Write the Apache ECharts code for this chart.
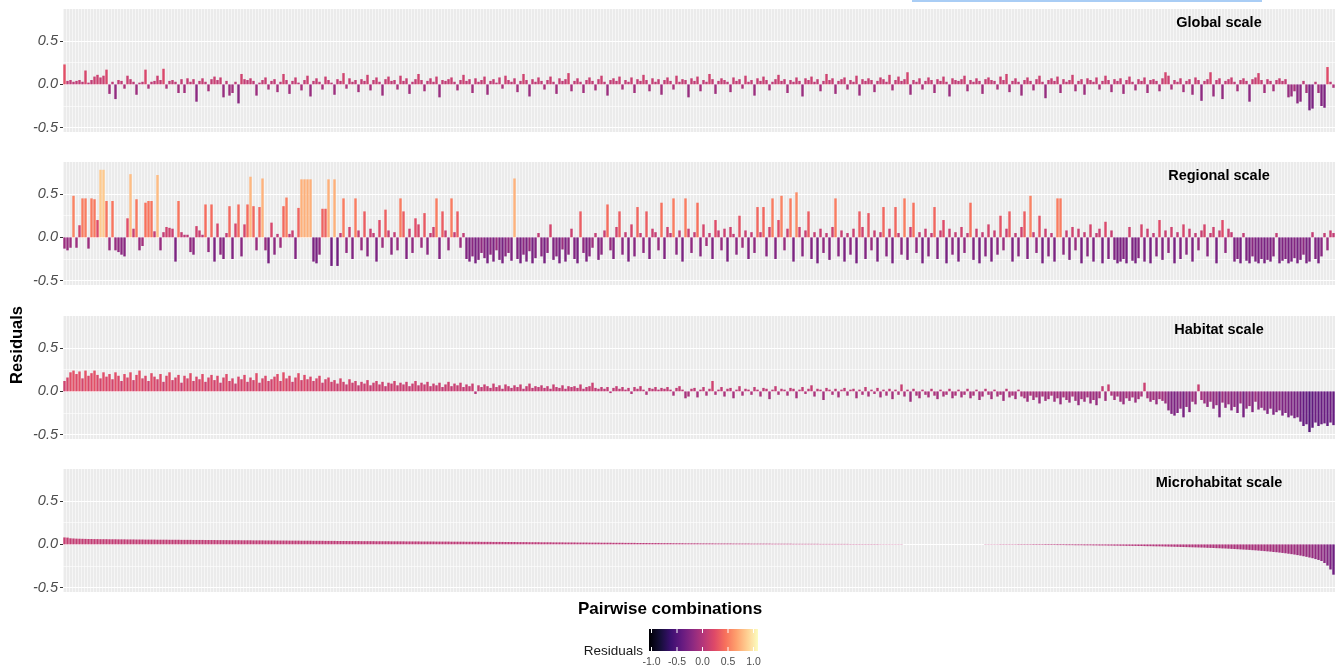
<!DOCTYPE html>
<html><head><meta charset="utf-8">
<script src="https://cdn.jsdelivr.net/npm/echarts@6/dist/echarts.min.js"></script>
<style>html,body{margin:0;padding:0;background:#fff}#c{width:1341px;height:671px}</style>
</head><body><div id="c"></div>
<script>
const panelTitles = ['Global scale', 'Regional scale', 'Habitat scale', 'Microhabitat scale'];
const yTickValues = [-0.5, 0, 0.5];
const yMinorValues = [-0.25, 0.25];
const legendTicks = [-1.0, -0.5, 0.0, 0.5, 1.0];

const globalRes = [
0.23,0.04,0.05,0.03,0.04,0.05,0.03,0.16,0.02,0.05,
0.09,0.11,0.08,0.10,0.17,-0.11,0.03,-0.17,0.05,0.04,
-0.05,0.10,0.06,0.03,-0.12,0.02,0.03,0.17,-0.05,0.03,
0.04,0.10,0.05,0.18,-0.05,0.04,0.05,0.03,-0.10,0.06,
-0.10,0.07,0.03,0.06,-0.20,0.04,0.07,0.03,-0.08,0.06,
0.09,0.05,0.08,-0.15,0.04,-0.13,-0.10,0.03,-0.22,0.12,
0.06,0.05,0.07,0.04,-0.13,0.02,0.05,0.08,-0.06,0.04,
0.06,-0.09,0.03,0.12,0.05,-0.11,0.04,0.08,0.02,-0.07,
0.05,0.10,-0.14,0.04,0.07,0.03,-0.06,0.09,0.05,0.02,
-0.12,0.06,0.04,0.13,-0.05,0.07,0.03,0.05,-0.09,0.06,
0.04,0.11,-0.07,0.05,0.08,0.03,-0.13,0.06,0.09,0.04,
0.05,-0.06,0.10,0.04,0.07,-0.11,0.03,0.06,0.12,0.05,
-0.08,0.04,0.07,0.03,0.09,-0.15,0.05,0.04,0.06,0.08,
0.03,-0.07,0.05,0.11,0.04,0.06,-0.10,0.07,0.03,0.05,
0.09,-0.12,0.04,0.06,0.02,0.08,-0.05,0.10,0.05,0.03,
0.07,-0.09,0.04,0.12,0.05,-0.14,0.06,0.03,0.08,0.04,
-0.06,0.05,0.09,0.03,-0.11,0.07,0.04,0.06,0.13,-0.08,
0.04,0.07,0.03,-0.10,0.05,0.08,0.04,-0.07,0.06,0.10,
0.03,-0.13,0.05,0.07,0.04,0.09,-0.06,0.05,0.03,0.08,
-0.10,0.06,0.04,0.11,0.05,-0.08,0.07,0.03,0.06,-0.12,
0.05,0.08,0.04,-0.06,0.10,0.03,0.06,0.05,-0.15,0.07,
0.04,0.09,-0.08,0.05,0.03,0.12,0.06,-0.11,0.04,0.07,
0.05,0.03,-0.09,0.08,0.04,0.06,-0.05,0.10,0.03,0.05,
-0.13,0.07,0.04,0.09,0.05,-0.07,0.03,0.06,0.11,0.04,
0.06,-0.10,0.05,0.03,0.08,0.04,-0.14,0.07,0.05,0.09,
0.03,0.06,-0.08,0.04,0.12,0.05,0.07,-0.11,0.04,0.06,
0.08,-0.06,0.05,0.03,0.10,-0.13,0.06,0.04,0.07,0.05,
-0.09,0.04,0.08,0.06,0.03,0.11,-0.07,0.05,0.09,0.04,
0.06,0.14,-0.12,0.05,0.03,0.07,-0.06,0.04,0.08,0.05,
-0.10,0.06,0.04,0.09,0.03,-0.14,0.07,0.05,0.04,0.06,
0.10,-0.08,0.05,0.03,0.07,0.04,-0.11,0.06,0.08,0.05,
0.04,-0.06,0.09,0.05,0.12,-0.09,0.04,0.07,0.03,-0.13,
0.05,0.08,0.04,-0.07,0.06,0.10,0.03,-0.16,0.05,0.07,
0.04,0.09,-0.10,0.06,0.03,0.05,0.11,-0.08,0.04,0.06,
-0.12,0.07,0.05,0.03,0.08,-0.06,0.04,0.10,0.05,-0.09,
0.06,0.04,0.07,-0.11,0.05,0.09,0.03,-0.07,0.06,0.04,
0.08,-0.10,0.05,0.06,0.04,-0.08,0.07,0.14,0.10,-0.06,
0.05,0.03,0.07,-0.09,0.04,0.06,-0.12,0.08,0.05,-0.19,
0.04,0.06,0.14,-0.14,0.05,0.07,-0.17,0.04,0.06,0.08,
0.03,-0.08,0.05,0.07,0.04,-0.20,0.06,0.08,0.13,0.05,
-0.10,0.06,0.04,-0.08,0.05,0.07,0.04,0.06,-0.15,-0.14,
-0.08,-0.22,-0.20,0.04,-0.10,-0.30,-0.28,0.03,-0.10,-0.25,
-0.27,0.20,0.03,-0.04
];

const regionalRes = [
-0.13,-0.15,-0.12,0.48,-0.12,0.14,0.45,0.45,-0.13,0.45,
0.44,0.20,0.78,0.78,0.42,-0.15,0.42,-0.15,-0.17,-0.20,
-0.22,0.22,0.73,0.10,0.44,-0.15,-0.10,0.40,0.42,0.42,
0.07,0.72,-0.15,0.06,0.12,0.11,0.10,-0.28,0.42,0.06,
0.03,0.03,-0.17,-0.20,0.13,0.08,0.03,0.38,-0.17,0.38,
-0.28,0.16,-0.20,-0.25,0.05,0.36,-0.25,0.16,0.38,-0.22,
0.15,0.38,0.70,0.36,-0.15,0.35,0.68,-0.15,-0.30,0.17,
-0.20,0.04,-0.12,0.36,0.46,0.04,0.08,-0.25,0.34,0.67,
0.67,0.67,0.67,-0.28,-0.30,-0.20,0.33,0.33,0.67,-0.33,
0.67,-0.33,0.05,0.45,-0.18,0.12,-0.25,0.45,0.08,-0.15,
0.30,-0.22,0.10,0.05,-0.28,0.20,-0.12,0.32,0.08,-0.20,
0.06,-0.15,0.45,0.30,-0.25,0.10,-0.18,0.22,0.15,-0.12,
0.28,-0.20,0.05,0.12,0.45,-0.25,0.30,0.08,-0.15,0.45,
0.06,0.30,-0.12,0.05,-0.25,-0.28,-0.22,-0.30,-0.26,-0.18,
-0.24,-0.30,-0.20,-0.28,-0.15,-0.26,-0.30,-0.22,-0.18,-0.27,
0.68,-0.25,-0.30,-0.20,-0.28,-0.16,-0.30,-0.24,0.05,-0.22,
-0.30,-0.18,0.15,-0.26,-0.22,-0.30,-0.14,-0.28,-0.20,0.10,
-0.25,-0.30,0.30,-0.18,-0.28,-0.22,-0.12,0.05,-0.26,-0.20,
0.08,0.38,-0.15,-0.25,0.12,0.30,-0.20,0.06,-0.28,0.15,
-0.22,0.35,0.05,-0.18,0.30,-0.25,0.10,0.06,-0.15,0.40,
-0.25,0.12,0.05,0.45,-0.20,0.08,-0.28,0.45,0.10,-0.18,
0.06,0.40,-0.22,0.15,-0.10,0.05,-0.25,0.20,0.08,-0.15,
0.10,-0.28,0.12,0.04,-0.20,0.25,-0.12,0.08,-0.25,0.06,
-0.18,0.35,0.06,0.35,-0.22,0.12,0.45,-0.25,0.20,0.48,
-0.15,0.10,0.45,-0.28,0.52,0.12,-0.22,0.08,0.30,-0.25,
0.06,-0.30,0.10,-0.18,0.05,-0.26,0.12,0.45,-0.22,0.08,
-0.28,0.05,-0.20,0.10,-0.30,0.30,0.12,-0.25,0.28,-0.15,
0.08,-0.28,0.06,0.35,-0.22,0.10,-0.30,0.35,0.05,-0.20,
0.45,-0.26,0.12,0.40,-0.18,0.06,-0.30,0.10,-0.22,0.05,
0.35,-0.25,0.08,0.20,-0.30,0.10,-0.20,0.06,-0.28,0.12,
-0.18,0.05,0.40,-0.26,0.10,-0.30,0.06,-0.22,0.15,-0.28,
0.08,-0.20,0.25,-0.15,0.10,0.30,-0.28,0.05,-0.22,0.12,
0.30,-0.25,0.48,0.06,-0.18,0.25,-0.30,0.10,-0.22,0.05,
-0.28,0.45,0.45,-0.20,0.08,-0.26,0.12,-0.15,0.10,-0.30,
0.06,-0.22,0.15,-0.28,0.05,0.10,-0.30,0.18,-0.25,0.08,
-0.26,-0.30,-0.28,-0.25,-0.30,0.12,-0.27,-0.30,-0.24,0.15,
-0.28,0.10,-0.30,0.05,-0.22,0.20,-0.26,0.08,-0.18,0.12,
-0.30,0.06,-0.25,0.15,-0.20,0.10,-0.28,0.05,-0.15,0.08,
0.15,-0.22,0.05,0.12,-0.30,0.08,0.20,-0.18,0.10,0.06,
-0.28,-0.25,-0.30,0.05,-0.27,-0.30,-0.22,-0.28,-0.30,-0.25,
-0.30,-0.26,-0.28,-0.22,0.05,-0.30,-0.27,-0.25,-0.30,-0.28,
-0.24,-0.30,-0.26,-0.20,-0.30,-0.28,0.06,-0.25,-0.30,-0.22,
0.05,-0.15,0.08,0.05
];

const habitatRes = [
0.12,0.16,0.22,0.24,0.20,0.23,0.15,0.24,0.18,0.21,
0.24,0.19,0.15,0.22,0.17,0.20,0.14,0.22,0.18,0.12,
0.20,0.16,0.22,0.13,0.19,0.24,0.15,0.18,0.12,0.21,
0.17,0.14,0.20,0.11,0.18,0.22,0.13,0.16,0.19,0.10,
0.18,0.15,0.21,0.12,0.17,0.14,0.20,0.11,0.16,0.19,
0.13,0.18,0.10,0.16,0.20,0.12,0.15,0.09,0.17,0.14,
0.19,0.11,0.16,0.13,0.21,0.10,0.15,0.18,0.12,0.14,
0.17,0.20,0.12,0.22,0.15,0.18,0.11,0.16,0.21,0.13,
0.19,0.14,0.17,0.12,0.15,0.18,0.10,0.14,0.16,0.11,
0.13,0.09,0.15,0.11,0.08,0.14,0.10,0.12,0.07,0.11,
0.09,0.13,0.07,0.10,0.12,0.08,0.11,0.06,0.10,0.09,
0.12,0.07,0.10,0.08,0.11,0.06,0.09,0.12,0.07,0.10,
0.08,0.11,0.06,0.09,0.07,0.10,0.05,0.08,0.11,0.06,
0.09,0.07,0.10,0.05,0.08,0.06,0.09,-0.03,0.07,0.05,
0.08,0.06,0.04,0.09,0.05,0.07,0.03,0.08,0.06,0.04,
0.07,0.05,0.08,0.03,0.06,0.09,0.04,0.06,0.05,0.07,
0.04,0.06,0.03,0.08,0.05,0.04,0.07,0.03,0.06,0.05,
0.06,0.04,0.08,0.03,0.05,0.06,0.10,0.04,0.03,0.05,
0.03,0.05,-0.02,0.04,0.06,0.03,0.05,0.02,0.04,-0.03,
0.05,0.03,0.06,0.02,-0.04,0.04,0.03,0.05,0.02,0.04,
0.03,0.05,0.02,-0.05,0.04,0.06,0.02,-0.08,-0.06,0.03,
0.04,-0.07,0.02,0.05,-0.05,0.03,0.12,-0.04,0.02,0.05,
-0.06,0.03,0.04,-0.08,0.02,0.06,-0.05,0.03,0.02,-0.04,
0.05,0.02,-0.06,0.04,0.03,-0.09,0.02,0.06,-0.04,0.03,
0.02,-0.05,0.04,0.03,-0.08,0.02,0.05,-0.03,0.03,0.07,
-0.06,0.03,0.02,-0.10,0.04,0.02,-0.04,0.03,-0.07,0.02,
0.04,-0.05,0.02,0.03,-0.08,0.02,-0.04,0.05,-0.06,0.02,
-0.03,0.04,-0.07,0.02,-0.05,0.03,-0.09,0.02,-0.04,0.08,
-0.06,0.02,-0.12,0.03,-0.05,-0.08,0.02,-0.04,-0.07,0.03,
-0.05,-0.09,0.02,-0.06,-0.04,0.03,-0.08,-0.05,0.02,-0.07,
-0.04,0.03,-0.08,-0.05,0.02,-0.10,-0.06,0.03,-0.04,-0.09,
0.02,-0.06,-0.04,-0.11,0.03,-0.07,-0.05,-0.09,0.02,-0.06,
-0.08,-0.12,-0.05,-0.10,-0.07,-0.14,-0.06,-0.11,-0.09,-0.05,
-0.12,-0.08,-0.15,-0.07,-0.10,-0.13,-0.06,-0.11,-0.16,-0.09,
-0.12,-0.07,-0.14,-0.10,-0.16,-0.08,0.06,-0.11,0.08,-0.05,
-0.10,-0.06,-0.12,-0.15,-0.08,-0.11,-0.07,-0.13,-0.09,-0.06,
0.10,-0.08,-0.12,-0.10,-0.15,-0.09,-0.11,-0.14,-0.22,-0.26,
-0.28,-0.25,-0.20,-0.30,-0.18,-0.24,-0.12,-0.15,0.08,-0.10,
-0.14,-0.18,-0.12,-0.20,-0.16,-0.30,-0.13,-0.19,-0.15,-0.22,
-0.18,-0.25,-0.14,-0.30,-0.20,-0.17,-0.24,-0.12,-0.21,-0.19,
-0.22,-0.26,-0.20,-0.27,-0.24,-0.22,-0.28,-0.25,-0.30,-0.28,
-0.31,-0.30,-0.35,-0.40,-0.38,-0.47,-0.42,-0.36,-0.40,-0.38,
-0.37,-0.40,-0.36,-0.39
];

const microRes = [
0.080,0.078,0.070,0.068,0.066,0.065,0.064,0.063,0.062,0.062,
0.061,0.061,0.060,0.060,0.060,0.059,0.059,0.059,0.058,0.058,
0.058,0.057,0.057,0.057,0.056,0.056,0.056,0.055,0.055,0.055,
0.055,0.054,0.054,0.054,0.054,0.053,0.053,0.053,0.053,0.052,
0.052,0.052,0.052,0.051,0.051,0.051,0.051,0.050,0.050,0.050,
0.050,0.049,0.049,0.049,0.049,0.048,0.048,0.048,0.048,0.047,
0.047,0.047,0.047,0.046,0.046,0.046,0.046,0.045,0.045,0.045,
0.045,0.044,0.044,0.044,0.044,0.043,0.043,0.043,0.043,0.042,
0.042,0.042,0.042,0.041,0.041,0.041,0.041,0.040,0.040,0.040,
0.040,0.039,0.039,0.039,0.039,0.038,0.038,0.038,0.038,0.037,
0.037,0.037,0.037,0.037,0.036,0.036,0.036,0.036,0.036,0.035,
0.035,0.035,0.035,0.035,0.034,0.034,0.034,0.034,0.034,0.033,
0.033,0.033,0.033,0.033,0.032,0.032,0.032,0.032,0.032,0.031,
0.031,0.031,0.031,0.031,0.030,0.030,0.030,0.030,0.030,0.029,
0.029,0.029,0.029,0.028,0.028,0.028,0.028,0.027,0.027,0.027,
0.027,0.026,0.026,0.026,0.026,0.025,0.025,0.025,0.025,0.024,
0.024,0.024,0.024,0.023,0.023,0.023,0.023,0.022,0.022,0.022,
0.022,0.021,0.021,0.021,0.021,0.020,0.020,0.020,0.020,0.019,
0.019,0.019,0.019,0.018,0.018,0.018,0.018,0.017,0.017,0.017,
0.017,0.016,0.016,0.016,0.016,0.015,0.015,0.015,0.015,0.014,
0.014,0.014,0.014,0.013,0.013,0.013,0.013,0.012,0.012,0.012,
0.012,0.012,0.011,0.011,0.011,0.011,0.011,0.010,0.010,0.010,
0.010,0.010,0.010,0.009,0.009,0.009,0.009,0.009,0.009,0.008,
0.008,0.008,0.008,0.008,0.008,0.008,0.007,0.007,0.007,0.007,
0.007,0.007,0.007,0.006,0.006,0.006,0.006,0.006,0.006,0.006,
0.006,0.006,0.005,0.005,0.005,0.005,0.005,0.005,0.005,0.005,
0.005,0.005,0.004,0.004,0.004,0.004,0.004,0.004,0.004,0.004,
0.004,0.004,0.003,0.003,0.003,0.003,0.003,0.003,0.003,0.003,
0,0,0,0,0,0,0,0,0,0,
0,0,0,0,0,0,0,0,0,0,
0,0,0,0,0,0,0,-0.003,-0.003,-0.003,
-0.003,-0.003,-0.004,-0.004,-0.004,-0.004,-0.004,-0.004,-0.005,-0.005,
-0.005,-0.005,-0.005,-0.006,-0.006,-0.006,-0.006,-0.007,-0.007,-0.007,
-0.007,-0.008,-0.008,-0.008,-0.009,-0.009,-0.009,-0.010,-0.010,-0.010,
-0.011,-0.011,-0.011,-0.012,-0.012,-0.013,-0.013,-0.013,-0.014,-0.014,
-0.015,-0.015,-0.016,-0.016,-0.017,-0.017,-0.018,-0.018,-0.019,-0.019,
-0.020,-0.021,-0.021,-0.022,-0.023,-0.023,-0.024,-0.025,-0.026,-0.027,
-0.028,-0.029,-0.030,-0.031,-0.032,-0.033,-0.034,-0.035,-0.036,-0.037,
-0.038,-0.040,-0.041,-0.042,-0.044,-0.045,-0.047,-0.048,-0.050,-0.052,
-0.054,-0.056,-0.058,-0.060,-0.062,-0.064,-0.067,-0.069,-0.072,-0.075,
-0.078,-0.081,-0.084,-0.088,-0.091,-0.095,-0.099,-0.103,-0.108,-0.113,
-0.118,-0.124,-0.130,-0.137,-0.144,-0.152,-0.160,-0.170,-0.180,-0.192,
-0.215,-0.245,-0.290,-0.350
];

const panelData = [globalRes, regionalRes, habitatRes, microRes];
const N = 424;
const pairIds = Array.from({length: N}, (_, i) => 'pair ' + (i + 1));
const magma = ['#000004','#140e36','#3b0f70','#641a80','#8c2981','#b73779','#de4968','#f7705c','#fe9f6d','#fecf92','#fcfdbf'];

const gridTops = [9, 162, 316, 469];
const gridH = 123, gridLeft = 63, gridW = 1272;
const yMin = -0.55, yMax = 0.87;
const FONT = 'Liberation Sans, Arial, sans-serif';

const grids = [], xAxes = [], yAxes = [], series = [];
panelData.forEach((d, k) => {
  grids.push({left: gridLeft, width: gridW, top: gridTops[k], height: gridH, show: true,
    backgroundColor: '#ebebeb', borderWidth: 0, containLabel: false});
  xAxes.push({type: 'category', gridIndex: k, data: pairIds,
    axisLine: {show: false}, axisTick: {show: false}, axisLabel: {show: false},
    splitLine: {show: true, interval: 0, lineStyle: {color: 'rgba(255,255,255,0.55)', width: 1}}});
  yAxes.push({type: 'value', gridIndex: k, min: yMin, max: yMax, position: 'left',
    axisLine: {show: false},
    axisTick: {show: true, length: 3, lineStyle: {color: '#333', width: 1}, customValues: yTickValues},
    axisLabel: {customValues: yTickValues, formatter: v => v.toFixed(1), fontStyle: 'italic',
      color: '#4d4d4d', fontSize: 14.5, fontFamily: FONT, margin: 5},
    splitLine: {show: true, lineStyle: {color: '#ffffff', width: 1.2}}});
  yAxes.push({type: 'value', gridIndex: k, min: yMin, max: yMax, position: 'right',
    axisLine: {show: false}, axisTick: {show: false, customValues: yMinorValues},
    axisLabel: {show: false, customValues: yMinorValues},
    splitLine: {show: true, lineStyle: {color: '#ffffff', width: 0.6}}});
  series.push({type: 'bar', name: panelTitles[k], xAxisIndex: k, yAxisIndex: 2 * k, data: d,
    barWidth: '80%', silent: true, animation: false});
});

const graphic = [];
panelTitles.forEach((t, k) => {
  graphic.push({type: 'text', x: 1219, y: gridTops[k] + 14, z: 100,
    style: {text: t, font: 'bold 14.5px ' + FONT, fill: '#000', textAlign: 'center', textVerticalAlign: 'middle'}});
});
graphic.push({type: 'text', x: 17, y: 345, rotation: Math.PI / 2, z: 100,
  style: {text: 'Residuals', font: 'bold 16.5px ' + FONT, fill: '#000', textAlign: 'center', textVerticalAlign: 'middle'}});
graphic.push({type: 'text', x: 670, y: 609, z: 100,
  style: {text: 'Pairwise combinations', font: 'bold 17px ' + FONT, fill: '#000', textAlign: 'center', textVerticalAlign: 'middle'}});
// colour bar legend
const lgX = 649, lgY = 629, lgW = 109, lgH = 22;
graphic.push({type: 'text', x: 643, y: 651, z: 100,
  style: {text: 'Residuals', font: '13.5px ' + FONT, fill: '#1a1a1a', textAlign: 'right', textVerticalAlign: 'middle'}});
graphic.push({type: 'rect', shape: {x: lgX, y: lgY, width: lgW, height: lgH}, z: 100,
  style: {fill: {type: 'linear', x: 0, y: 0, x2: 1, y2: 0,
    colorStops: magma.map((c, i) => ({offset: i / (magma.length - 1), color: c}))}}});
legendTicks.forEach(v => {
  const px = 651.5 + (v + 1) / 2 * 102;
  graphic.push({type: 'line', z: 101, shape: {x1: px, y1: lgY, x2: px, y2: lgY + 4}, style: {stroke: '#fff', lineWidth: 1}});
  graphic.push({type: 'line', z: 101, shape: {x1: px, y1: lgY + lgH - 4, x2: px, y2: lgY + lgH}, style: {stroke: '#fff', lineWidth: 1}});
  graphic.push({type: 'text', x: px, y: 662, z: 100,
    style: {text: v.toFixed(1), font: '10.5px ' + FONT, fill: '#4d4d4d', textAlign: 'center', textVerticalAlign: 'middle'}});
});
graphic.push({type: 'rect', shape: {x: 912, y: 0, width: 350, height: 2}, z: 100, style: {fill: '#a9cdf5'}});

const chart = echarts.init(document.getElementById('c'), null, {renderer: 'canvas'});
chart.setOption({
  animation: false,
  backgroundColor: '#ffffff',
  grid: grids, xAxis: xAxes, yAxis: yAxes, series: series,
  visualMap: {type: 'continuous', show: false, min: -1, max: 1, seriesIndex: [0, 1, 2, 3], inRange: {color: magma}},
  graphic: graphic
});
</script></body></html>
